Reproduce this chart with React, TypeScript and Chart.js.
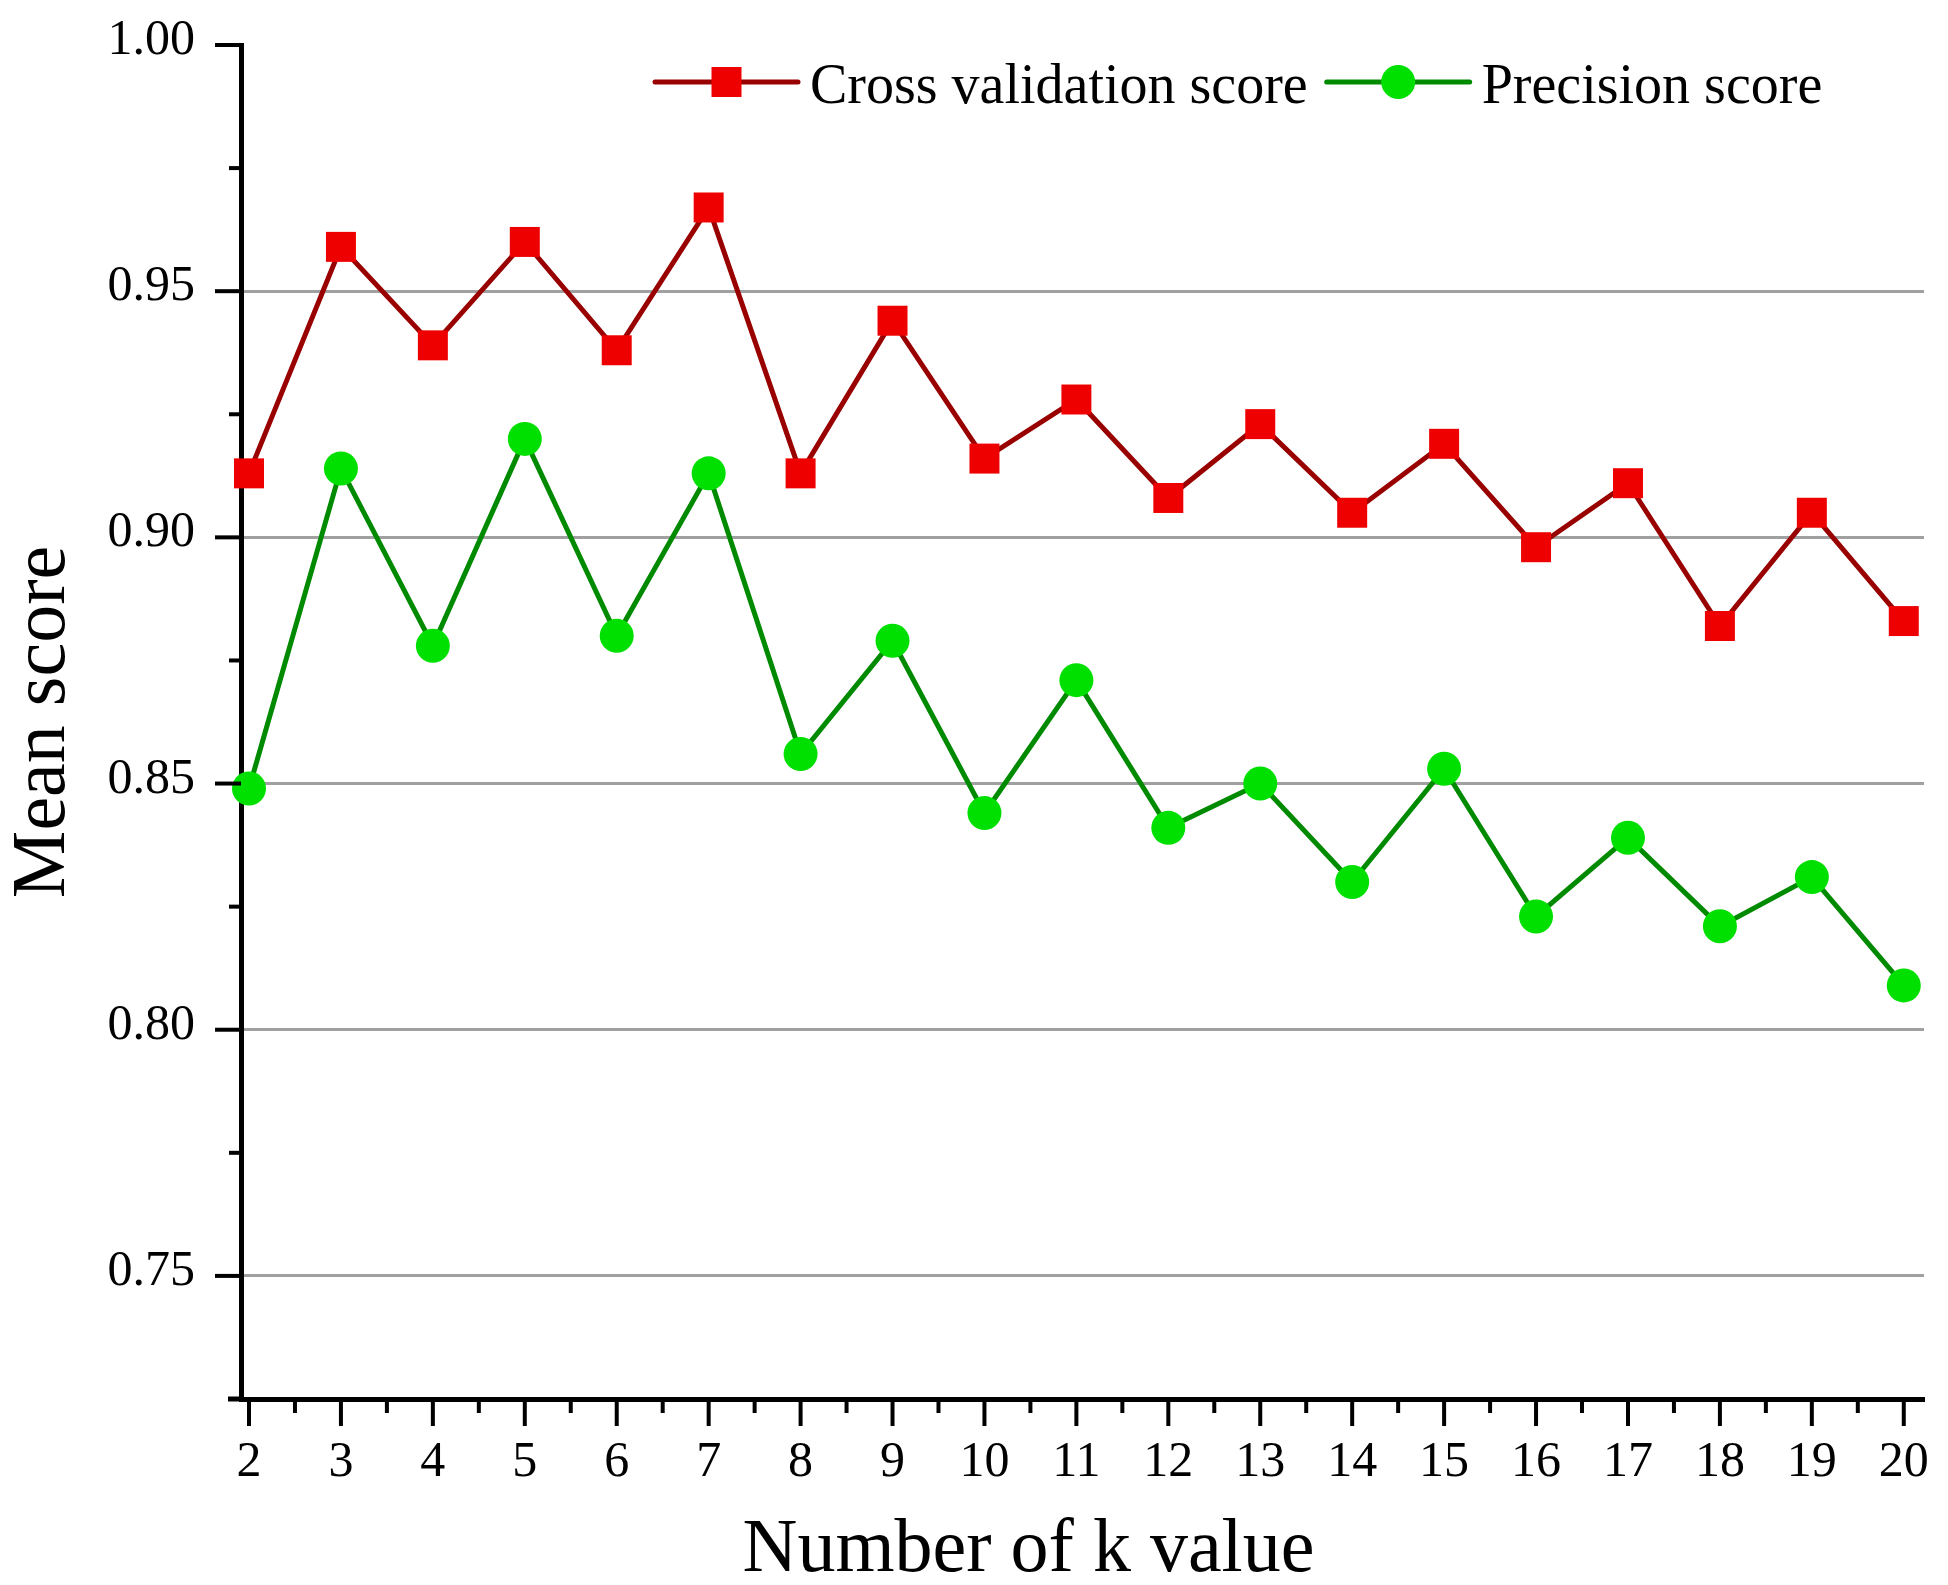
import React, { useEffect, useRef } from "react";
import { Chart, registerables } from "chart.js";

Chart.register(...registerables);

// ---- data ----
const kValues = [2, 3, 4, 5, 6, 7, 8, 9, 10, 11, 12, 13, 14, 15, 16, 17, 18, 19, 20];
const crossValidationScore = [
  0.913, 0.959, 0.939, 0.96, 0.938, 0.967, 0.913, 0.944, 0.916, 0.928,
  0.908, 0.923, 0.905, 0.919, 0.898, 0.911, 0.882, 0.905, 0.883,
];
const precisionScore = [
  0.849, 0.914, 0.878, 0.92, 0.88, 0.913, 0.856, 0.879, 0.844, 0.871,
  0.841, 0.85, 0.83, 0.853, 0.823, 0.839, 0.821, 0.831, 0.809,
];
const yTickValues = [0.75, 0.8, 0.85, 0.9, 0.95, 1.0];
const xTickValues = kValues;
const seriesLabels = ["Cross validation score", "Precision score"];
const xTitle = "Number of k value";
const yTitle = "Mean score";

const FONT = "'Liberation Serif', 'Times New Roman', serif";

const midpoints = (arr: number[]) => arr.slice(1).map((v, i) => (v + arr[i]) / 2);

const axisTicksPlugin = {
  id: "axisTicks",
  afterDraw(chart: any) {
    const { ctx, chartArea, scales } = chart;
    const xs = scales.x;
    const ys = scales.y;
    ctx.save();
    ctx.strokeStyle = "#000";
    ctx.lineCap = "butt";
    // x-axis short extension to the left of the y axis
    ctx.beginPath();
    ctx.lineWidth = 5;
    ctx.moveTo(chartArea.left - 13, chartArea.bottom);
    ctx.lineTo(chartArea.left, chartArea.bottom);
    ctx.stroke();
    ctx.lineWidth = 4;
    // y ticks
    yTickValues.forEach((v) => {
      const p = ys.getPixelForValue(v);
      ctx.beginPath();
      ctx.moveTo(chartArea.left - 26, p);
      ctx.lineTo(chartArea.left, p);
      ctx.stroke();
    });
    midpoints(yTickValues).forEach((v) => {
      const p = ys.getPixelForValue(v);
      ctx.beginPath();
      ctx.moveTo(chartArea.left - 12, p);
      ctx.lineTo(chartArea.left, p);
      ctx.stroke();
    });
    // x ticks
    xTickValues.forEach((v) => {
      const p = xs.getPixelForValue(v);
      ctx.beginPath();
      ctx.moveTo(p, chartArea.bottom);
      ctx.lineTo(p, chartArea.bottom + 27);
      ctx.stroke();
    });
    midpoints(xTickValues).forEach((v) => {
      const p = xs.getPixelForValue(v);
      ctx.beginPath();
      ctx.moveTo(p, chartArea.bottom);
      ctx.lineTo(p, chartArea.bottom + 14);
      ctx.stroke();
    });
    // x-axis title
    ctx.fillStyle = "#000";
    ctx.font = `76px ${FONT}`;
    ctx.textAlign = "center";
    ctx.textBaseline = "alphabetic";
    ctx.fillText(xTitle, (chartArea.left + chartArea.right) / 2 - 54, chartArea.bottom + 172);
    ctx.restore();
  },
};

const inlineLegendPlugin = {
  id: "inlineLegend",
  afterDraw(chart: any) {
    const { ctx, chartArea } = chart;
    ctx.save();
    ctx.font = `56px ${FONT}`;
    ctx.textAlign = "left";
    ctx.textBaseline = "alphabetic";
    let x = chartArea.left + 414;
    const y = chartArea.top + 37;
    const lineLen = 143;
    chart.data.datasets.forEach((ds: any) => {
      ctx.strokeStyle = ds.borderColor;
      ctx.lineWidth = ds.borderWidth;
      ctx.lineCap = "round";
      ctx.beginPath();
      ctx.moveTo(x, y);
      ctx.lineTo(x + lineLen, y);
      ctx.stroke();
      const cx = x + lineLen / 2;
      ctx.fillStyle = ds.pointBackgroundColor;
      if (ds.pointStyle === "rect") {
        const half = (ds.pointRadius * Math.SQRT2) / 2;
        ctx.fillRect(cx - half, y - half, half * 2, half * 2);
      } else {
        ctx.beginPath();
        ctx.arc(cx, y, ds.pointRadius, 0, Math.PI * 2);
        ctx.fill();
      }
      ctx.fillStyle = "#000";
      const tx = x + lineLen + 12;
      ctx.fillText(ds.label, tx, y + 21);
      x = tx + ctx.measureText(ds.label).width + 19;
    });
    ctx.restore();
  },
};

export default function App() {
  const canvasRef = useRef<HTMLCanvasElement>(null);

  useEffect(() => {
    document.body.style.margin = "0";
    const canvas = canvasRef.current;
    if (!canvas) return;
    Chart.defaults.font.family = FONT;
    Chart.defaults.color = "#000";

    const chart = new Chart(canvas, {
      type: "line",
      data: {
        datasets: [
          {
            label: seriesLabels[0],
            data: kValues.map((k, i) => ({ x: k, y: crossValidationScore[i] })),
            borderColor: "#990000",
            borderWidth: 5,
            pointStyle: "rect",
            pointRadius: 21.2,
            pointHoverRadius: 21.2,
            pointBackgroundColor: "#ee0000",
            pointBorderWidth: 0,
            tension: 0,
            clip: false,
          } as any,
          {
            label: seriesLabels[1],
            data: kValues.map((k, i) => ({ x: k, y: precisionScore[i] })),
            borderColor: "#008a00",
            borderWidth: 5,
            pointStyle: "circle",
            pointRadius: 17,
            pointHoverRadius: 17,
            pointBackgroundColor: "#00e000",
            pointBorderWidth: 0,
            tension: 0,
            clip: false,
          } as any,
        ],
      },
      options: {
        responsive: false,
        maintainAspectRatio: false,
        animation: false,
        events: [],
        layout: {
          autoPadding: false,
          padding: { top: 45, right: 24, left: 0, bottom: 0 },
        },
        plugins: {
          legend: { display: false },
          tooltip: { enabled: false },
        },
        scales: {
          x: {
            type: "linear",
            min: 1.913,
            max: 20.22,
            afterFit: (scale: any) => {
              scale.height = 1585 - 45 - 1354;
              scale.paddingLeft = 0;
              scale.paddingRight = 0;
            },
            afterBuildTicks: (scale: any) => {
              scale.ticks = xTickValues.map((v) => ({ value: v }));
            },
            grid: { display: false, drawTicks: false },
            border: { display: true, color: "#000", width: 5 },
            ticks: {
              padding: 34,
              font: { size: 50, lineHeight: 1.2 },
              color: "#000",
              callback: (v: any) => String(v),
            },
          },
          y: {
            type: "linear",
            min: 0.725,
            max: 1.0,
            afterFit: (scale: any) => {
              scale.width = 241;
              scale.paddingTop = 0;
              scale.paddingBottom = 0;
            },
            afterBuildTicks: (scale: any) => {
              scale.ticks = yTickValues.map((v) => ({ value: v }));
            },
            grid: {
              display: true,
              drawTicks: false,
              color: (c: any) => (c.tick && c.tick.value >= 1 ? "rgba(0,0,0,0)" : "#a0a0a0"),
              lineWidth: 3,
            },
            border: { display: true, color: "#000", width: 5 },
            ticks: {
              padding: 46,
              labelOffset: -4,
              font: { size: 50, lineHeight: 1.2 },
              color: "#000",
              callback: (v: any) => Number(v).toFixed(2),
            },
            title: {
              display: true,
              text: yTitle,
              font: { size: 76, lineHeight: 1.17 },
              color: "#000",
              padding: 0,
            },
          },
        },
      },
      plugins: [axisTicksPlugin, inlineLegendPlugin],
    } as any);

    return () => chart.destroy();
  }, []);

  return (
    <div style={{ position: "absolute", left: 0, top: 0, width: 1948, height: 1585, background: "#fff" }}>
      <canvas ref={canvasRef} width={1948} height={1585} style={{ display: "block" }} />
    </div>
  );
}
